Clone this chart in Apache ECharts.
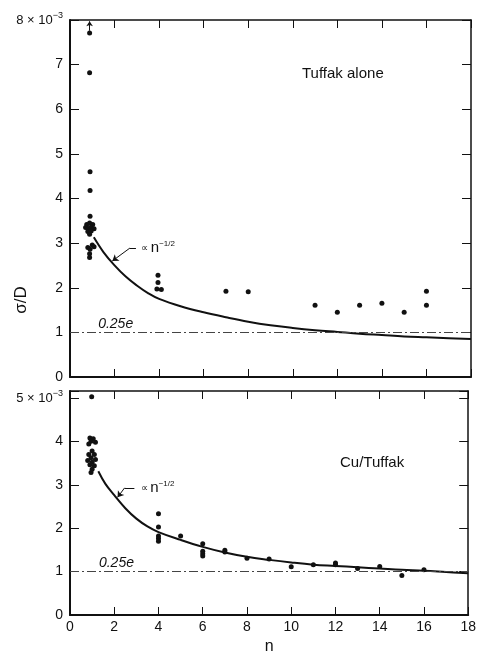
<!DOCTYPE html>
<html>
<head>
<meta charset="utf-8">
<script src="https://cdn.jsdelivr.net/npm/echarts@6/dist/echarts.min.js"></script>
<style>
html,body{margin:0;padding:0;background:#fff;}
#c{width:479px;height:656px;}
</style>
</head>
<body>
<div id="c"></div>
<script>
// ---- data (values in units of 10^-3) ----
var xTicks = [0, 2, 4, 6, 8, 10, 12, 14, 16, 18];
var topYTicks = [0, 1, 2, 3, 4, 5, 6, 7, 8];
var bottomYTicks = [0, 1, 2, 3, 4, 5];

var topPoints = [
  [0.88, 7.71], [0.88, 6.82], [0.9, 4.60], [0.9, 4.18], [0.9, 3.60],
  [0.75, 3.42], [0.88, 3.45], [1.02, 3.42], [0.7, 3.35], [0.82, 3.33],
  [0.95, 3.36], [1.08, 3.32], [0.8, 3.26], [0.95, 3.27], [0.88, 3.20],
  [1.0, 2.96], [0.8, 2.90], [0.9, 2.86], [1.08, 2.92], [0.88, 2.76], [0.88, 2.68],
  [3.95, 2.28], [3.95, 2.12], [3.9, 1.97], [4.1, 1.96],
  [7, 1.92], [8, 1.91], [11, 1.61], [12, 1.45], [13, 1.61],
  [14, 1.65], [15, 1.45], [16, 1.92], [16, 1.61]
];
var topCurve = [
  [1.07, 3.13], [1.5, 2.80], [2.0, 2.50], [2.5, 2.25], [3.0, 2.05], [3.5, 1.88],
  [4, 1.75], [5, 1.58], [6, 1.45], [7, 1.34], [8, 1.24], [9, 1.16], [10, 1.10],
  [11, 1.05], [12, 1.01], [13, 0.97], [14, 0.94], [15, 0.91], [16, 0.89],
  [17, 0.87], [18, 0.85]
];
var bottomPoints = [
  [0.98, 5.03],
  [0.9, 4.08], [1.05, 4.06], [0.95, 4.0], [1.15, 3.98], [0.85, 3.94],
  [1.0, 3.78], [0.85, 3.70], [1.1, 3.70], [0.95, 3.62], [1.15, 3.58],
  [0.8, 3.56], [1.0, 3.52], [0.9, 3.46], [1.1, 3.44], [1.0, 3.36], [0.95, 3.28],
  [4, 2.33], [4, 2.03], [4, 1.82], [4, 1.76], [4, 1.70],
  [5, 1.82], [6, 1.64], [6, 1.47], [6, 1.41], [6, 1.36],
  [7, 1.49], [7, 1.45], [8, 1.31], [9, 1.29], [10, 1.11], [11, 1.16],
  [12, 1.20], [12, 1.16], [13, 1.07], [14, 1.12], [15, 0.91], [16, 1.04]
];
var bottomCurve = [
  [1.28, 3.31], [1.6, 3.02], [2.0, 2.76], [2.5, 2.46], [3.0, 2.22], [3.5, 2.04],
  [4, 1.91], [5, 1.73], [6, 1.57], [7, 1.44], [8, 1.34], [9, 1.27], [10, 1.21],
  [11, 1.16], [12, 1.13], [13, 1.10], [14, 1.07], [15, 1.04], [16, 1.02],
  [17, 0.99], [18, 0.96]
];
var refLevel = 1;          // 0.25e line
var panelLabels = ['Tuffak alone', 'Cu/Tuffak'];

var FONT = 'Liberation Sans, Arial, sans-serif';
var BLACK = '#111';

var chart = echarts.init(document.getElementById('c'));

function xAx(grid, pos, showLabels) {
  return {
    type: 'value', gridIndex: grid, position: pos, min: 0, max: 18, interval: 2,
    axisLine: {show: true, onZero: false, lineStyle: {color: BLACK, width: pos === 'bottom' ? 2 : 1.5}},
    axisTick: {show: true, inside: true, length: 8, lineStyle: {color: BLACK, width: 1}},
    axisLabel: {show: showLabels, color: BLACK, fontFamily: FONT, fontSize: 14, margin: 5,
      formatter: function (v) { return xTicks.indexOf(v) >= 0 ? String(v) : ''; }},
    splitLine: {show: false},
    name: showLabels ? 'n' : '', nameLocation: 'middle', nameGap: 24,
    nameTextStyle: {color: BLACK, fontFamily: FONT, fontSize: 16}
  };
}
function yAx(grid, pos, max, ticks, showLabels) {
  var top = ticks[ticks.length - 1];
  return {
    type: 'value', gridIndex: grid, position: pos, min: 0, max: max, interval: 1,
    axisLine: {show: true, onZero: false, lineStyle: {color: BLACK, width: pos === 'left' ? 2 : 1.5}},
    axisTick: {show: true, inside: true, length: 9, lineStyle: {color: BLACK, width: 1}},
    axisLabel: {show: showLabels, color: BLACK, fontFamily: FONT, fontSize: 14, margin: 7,
      formatter: function (v) {
        if (ticks.indexOf(v) < 0) return '';
        if (v === top) return '{m|' + v + ' × 10}{s|−3}';
        return String(v);
      },
      rich: {
        m: {fontFamily: FONT, fontSize: 13, color: BLACK},
        s: {fontFamily: FONT, fontSize: 9, color: BLACK, padding: [0, 0, 8, 0]}
      }
    },
    splitLine: {show: false}
  };
}

var dashLine = {type: [9, 3, 2, 3], color: '#444', width: 1};

function refMark(yVal, extra) {
  var d = [[
    {coord: [0, yVal], symbol: 'none'},
    {coord: [18, yVal], symbol: 'none'}
  ]];
  if (extra) d.push(extra);
  return {
    silent: true, symbol: 'none', symbolSize: 5,
    lineStyle: dashLine, label: {show: false},
    data: d
  };
}

var propRich = {
  a: {fontFamily: FONT, fontSize: 10, color: BLACK},
  b: {fontFamily: FONT, fontSize: 15, color: BLACK},
  c: {fontFamily: FONT, fontSize: 8, color: BLACK, padding: [0, 0, 9, 0]}
};

function annot(textCoord, eLab) {
  return {
    symbol: 'circle', symbolSize: 0, silent: true,
    data: [
      {coord: textCoord, label: {show: true, position: 'right', distance: 2,
        formatter: '{a|∝ }{b|n}{c|−1/2}', rich: propRich}},
      {coord: eLab, label: {show: true, position: 'top', distance: 1,
        formatter: '0.25e', fontFamily: FONT, fontStyle: 'italic', fontSize: 14, color: BLACK}}
    ]
  };
}

function arrowMark(a, b, c) {
  return {
    silent: true, symbolSize: 6, label: {show: false},
    lineStyle: {type: 'solid', color: BLACK, width: 1},
    data: [
      [{coord: a, symbol: 'none'}, {coord: b, symbol: 'none'}],
      [{coord: b, symbol: 'none'}, {coord: c, symbol: 'arrow'}]
    ]
  };
}

var upArrow = [
  {coord: [0.88, 7.76], symbol: 'none', lineStyle: {type: 'solid', color: BLACK, width: 1}},
  {coord: [0.88, 7.97], symbol: 'arrow'}
];

var option = {
  backgroundColor: '#fff',
  animation: false,
  grid: [
    {left: 70, top: 20, width: 401, height: 357},
    {left: 70, top: 391, width: 401, height: 232}
  ],
  xAxis: [xAx(0, 'bottom', false), xAx(0, 'top', false), xAx(1, 'bottom', true), xAx(1, 'top', false)],
  yAxis: [yAx(0, 'left', 8, topYTicks, true), yAx(0, 'right', 8, topYTicks, false),
          yAx(1, 'left', 5.16, bottomYTicks, true), yAx(1, 'right', 5.16, bottomYTicks, false)],
  graphic: [
    {type: 'text', left: 302, top: 66, style: {text: panelLabels[0], font: '15px ' + FONT, fill: BLACK}},
    {type: 'text', left: 340, top: 455, style: {text: panelLabels[1], font: '15px ' + FONT, fill: BLACK}},
    {type: 'text', x: 21, y: 300, rotation: Math.PI / 2,
      style: {text: 'σ/D', font: '17px ' + FONT, fill: BLACK, align: 'center', verticalAlign: 'middle'}}
  ],
  series: [
    {type: 'scatter', xAxisIndex: 0, yAxisIndex: 0, data: topPoints, symbolSize: 5,
      itemStyle: {color: BLACK, opacity: 1}, markLine: refMark(refLevel, upArrow),
      markPoint: annot([3.1, 2.89], [2.05, refLevel])},
    {type: 'line', xAxisIndex: 0, yAxisIndex: 0, data: topCurve, smooth: 0.4, showSymbol: false,
      lineStyle: {color: BLACK, width: 2}, markLine: arrowMark([2.96, 2.89], [2.69, 2.89], [1.9, 2.6])},
    {type: 'scatter', xAxisIndex: 2, yAxisIndex: 2, data: bottomPoints, symbolSize: 5,
      itemStyle: {color: BLACK, opacity: 1}, markLine: refMark(refLevel),
      markPoint: annot([3.1, 2.93], [2.1, refLevel])},
    {type: 'line', xAxisIndex: 2, yAxisIndex: 2, data: bottomCurve, smooth: 0.4, showSymbol: false,
      lineStyle: {color: BLACK, width: 2}, markLine: arrowMark([2.91, 2.93], [2.47, 2.93], [2.15, 2.71])}
  ]
};
chart.setOption(option);
</script>
</body>
</html>
